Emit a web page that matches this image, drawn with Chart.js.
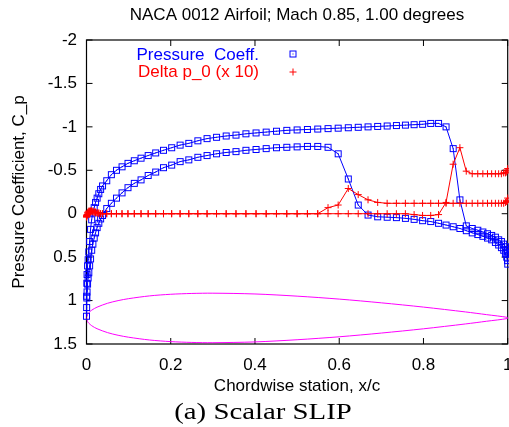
<!DOCTYPE html>
<html>
<head>
<meta charset="utf-8">
<script src="https://cdn.jsdelivr.net/npm/chart.js@4.4.1/dist/chart.umd.min.js"></script>
<style>
  html, body { margin: 0; padding: 0; background: #fff; }
</style>
</head>
<body>
<canvas id="cpChart" width="509" height="427"></canvas>
<script>
// chordwise stations (same for both surfaces)
const xStations = [0, 0.0002, 0.0006, 0.0012, 0.0024, 0.0038, 0.0054, 0.0074, 0.0096, 0.0122,
  0.0150, 0.0182, 0.0215, 0.0252, 0.0292, 0.0335, 0.0381, 0.0480, 0.0590, 0.0711,
  0.0843, 0.0984, 0.1135, 0.1295, 0.1464, 0.1642, 0.1828, 0.2022, 0.2222, 0.2429,
  0.2643, 0.2862, 0.3087, 0.3316, 0.3549, 0.3785, 0.4025, 0.4266, 0.4510, 0.4755,
  0.5, 0.5245, 0.5490, 0.5734, 0.5975, 0.6215, 0.6451, 0.6684, 0.6913, 0.7138,
  0.7357, 0.7571, 0.7778, 0.7979, 0.8172, 0.8358, 0.8536, 0.8705, 0.8865, 0.9016,
  0.9157, 0.9289, 0.9410, 0.9520, 0.9619, 0.9708, 0.9785, 0.9850, 0.9904, 0.9946,
  0.9976, 0.9994, 1];

// pressure coefficient, upper and lower surface
const cpUpper = [1.18, 0.95, 0.80, 0.70, 0.60, 0.53, 0.44, 0.32, 0.18, 0.07,
  -0.01, -0.07, -0.13, -0.18, -0.23, -0.28, -0.32, -0.38, -0.45, -0.50,
  -0.54, -0.58, -0.61, -0.64, -0.67, -0.70, -0.73, -0.76, -0.79, -0.81,
  -0.84, -0.865, -0.88, -0.895, -0.905, -0.92, -0.93, -0.94, -0.95, -0.96,
  -0.965, -0.97, -0.975, -0.98, -0.985, -0.99, -0.995, -1.0, -1.005, -1.01,
  -1.015, -1.02, -1.025, -1.03, -1.04, -1.04, -1.00, -0.75, -0.16, 0.14,
  0.17, 0.19, 0.21, 0.23, 0.25, 0.27, 0.30, 0.32, 0.35, 0.38,
  0.41, 0.43, 0.45];
const cpLower = [1.18, 1.08, 0.97, 0.90, 0.81, 0.74, 0.68, 0.60, 0.52, 0.42,
  0.35, 0.28, 0.22, 0.16, 0.11, 0.06, 0.02, -0.06, -0.12, -0.18,
  -0.24, -0.30, -0.35, -0.39, -0.44, -0.48, -0.53, -0.56, -0.60, -0.62,
  -0.65, -0.67, -0.69, -0.705, -0.715, -0.73, -0.74, -0.75, -0.76, -0.765,
  -0.77, -0.775, -0.775, -0.765, -0.69, -0.40, -0.10, 0.015, 0.035, 0.04,
  0.045, 0.053, 0.065, 0.08, 0.09, 0.11, 0.13, 0.15, 0.17, 0.195,
  0.22, 0.24, 0.26, 0.28, 0.30, 0.33, 0.36, 0.39, 0.42, 0.46,
  0.50, 0.54, 0.58];

// total pressure loss, scaled by 10
const dp0Upper = [0.03, 0.03, 0.02, 0.01, -0.01, -0.02, -0.03, -0.03, -0.03, -0.03,
  -0.03, -0.02, -0.02, -0.01, -0.01, 0, 0, 0, 0, 0,
  0, 0, 0, 0, 0, 0, 0, 0, 0, 0,
  0, 0, 0, 0, 0, 0, 0, 0, 0, 0,
  0, 0, 0, 0, 0, 0, 0, 0, 0, 0,
  0, 0, 0.01, 0.02, 0.02, 0.01, -0.13, -0.57, -0.76, -0.49,
  -0.46, -0.46, -0.46, -0.46, -0.46, -0.46, -0.46, -0.46, -0.47, -0.47,
  -0.48, -0.50, -0.52];
const dp0Lower = [0.03, 0.04, 0.03, 0.02, 0.01, 0.0, -0.01, -0.02, -0.03, -0.03,
  -0.02, -0.02, -0.01, -0.01, 0, 0, 0, 0, 0, 0,
  0, 0, 0, 0, 0, 0, 0, 0, 0, 0,
  0, 0, 0, 0, 0, 0, 0, 0, 0, 0,
  0, 0, 0, -0.07, -0.10, -0.29, -0.22, -0.16, -0.13, -0.12,
  -0.12, -0.12, -0.12, -0.12, -0.12, -0.12, -0.12, -0.12, -0.12, -0.12,
  -0.12, -0.12, -0.12, -0.12, -0.12, -0.12, -0.12, -0.12, -0.12, -0.13,
  -0.14, -0.15, -0.18];

// airfoil outline, drawn in the Cp frame around 1.2
const foilX = [0, 0.0025, 0.005, 0.0125, 0.025, 0.05, 0.075, 0.1, 0.15, 0.2,
  0.25, 0.3, 0.4, 0.5, 0.6, 0.7, 0.8, 0.9, 0.95, 1.0];
const foilUpper = [1.2, 1.159, 1.142, 1.110, 1.076, 1.031, 1.0005, 0.978, 0.946, 0.9275,
  0.918, 0.915, 0.924, 0.949, 0.983, 1.026, 1.075, 1.131, 1.162, 1.194];
const foilLower = [1.2, 1.241, 1.258, 1.290, 1.324, 1.369, 1.3995, 1.422, 1.454, 1.4725,
  1.482, 1.485, 1.476, 1.451, 1.417, 1.374, 1.325, 1.269, 1.238, 1.206];

const xTicks = [0, 0.2, 0.4, 0.6, 0.8, 1];
const yTicks = [-2, -1.5, -1, -0.5, 0, 0.5, 1, 1.5];

const BLUE = '#0000ff', RED = '#ff0000', MAGENTA = '#ff00ff';
const SANS = '"Liberation Sans", Arial, sans-serif';

// go round the section: lower TE -> LE -> upper TE
function loop(lower, upper) {
  const pts = [];
  for (let i = xStations.length - 1; i >= 0; i--) pts.push({ x: xStations[i], y: lower[i] });
  for (let i = 1; i < xStations.length; i++) pts.push({ x: xStations[i], y: upper[i] });
  return pts;
}
function foilPath() {
  const pts = foilX.map((x, i) => ({ x, y: foilUpper[i] }));
  for (let i = foilX.length - 1; i >= 0; i--) pts.push({ x: foilX[i], y: foilLower[i] });
  return pts;
}

// open square with a centre dot
const boxMark = document.createElement('canvas');
boxMark.width = 9; boxMark.height = 9;
(function () {
  const c = boxMark.getContext('2d');
  c.strokeStyle = BLUE; c.lineWidth = 1;
  c.strokeRect(1.5, 1.5, 6, 6);
  c.fillStyle = BLUE; c.fillRect(4, 4, 1, 1);
})();

const frame = {
  id: 'frame',
  beforeDatasetsDraw(chart) {
    const ctx = chart.ctx, xs = chart.scales.x, ys = chart.scales.y;
    const { left, right, top, bottom } = chart.chartArea;
    ctx.save();
    ctx.strokeStyle = '#000';
    ctx.lineWidth = 1.2;
    ctx.strokeRect(left, top, right - left, bottom - top);
    ctx.beginPath();
    ctx.lineWidth = 1;
    xTicks.forEach(v => {
      const px = xs.getPixelForValue(v);
      ctx.moveTo(px, bottom); ctx.lineTo(px, bottom - 6);
      ctx.moveTo(px, top); ctx.lineTo(px, top + 6);
    });
    yTicks.forEach(v => {
      const py = ys.getPixelForValue(v);
      ctx.moveTo(left, py); ctx.lineTo(left + 6, py);
      ctx.moveTo(right, py); ctx.lineTo(right - 6, py);
    });
    ctx.stroke();
    ctx.restore();
  },
  afterDraw(chart) {
    const ctx = chart.ctx;
    ctx.save();
    ctx.fillStyle = '#000';
    ctx.textAlign = 'center';
    ctx.textBaseline = 'alphabetic';
    ctx.font = '17px ' + SANS;
    ctx.fillText('NACA 0012 Airfoil; Mach 0.85, 1.00 degrees', 297, 20);
    ctx.fillText('Chordwise station, x/c', 297, 391);

    // caption, widened serif
    ctx.save();
    ctx.translate(263, 419);
    ctx.scale(1.2, 1);
    ctx.font = '24px "Liberation Serif", serif';
    ctx.fillText('(a) Scalar SLIP', 0, 0);
    ctx.restore();

    ctx.save();
    ctx.translate(19, 192);
    ctx.rotate(-Math.PI / 2);
    ctx.textBaseline = 'middle';
    ctx.font = '17px ' + SANS;
    ctx.fillText('Pressure Coefficient, C_p', 0, 0);
    ctx.restore();

    // key
    ctx.textAlign = 'right';
    ctx.font = '17px ' + SANS;
    ctx.fillStyle = BLUE;
    ctx.fillText('Pressure  Coeff.', 259, 60);
    ctx.fillStyle = RED;
    ctx.fillText('Delta p_0 (x 10)', 259, 77);
    ctx.drawImage(boxMark, 293 - 4.5, 54 - 4.5);
    ctx.strokeStyle = RED; ctx.lineWidth = 1;
    ctx.beginPath();
    ctx.moveTo(289.5, 72); ctx.lineTo(296.5, 72);
    ctx.moveTo(293, 68.5); ctx.lineTo(293, 75.5);
    ctx.stroke();
    ctx.restore();
  }
};

new Chart(document.getElementById('cpChart'), {
  type: 'scatter',
  data: {
    datasets: [
      {
        label: 'Delta p_0 (x 10)',
        data: loop(dp0Lower, dp0Upper),
        showLine: true,
        borderColor: RED,
        borderWidth: 1,
        pointStyle: 'cross',
        pointRadius: 3.5,
        pointBorderColor: RED,
        pointBorderWidth: 1,
        clip: false,
        order: 1
      },
      {
        label: 'Pressure  Coeff.',
        data: loop(cpLower, cpUpper),
        showLine: true,
        borderColor: BLUE,
        borderWidth: 1,
        pointStyle: boxMark,
        pointRadius: 4,
        clip: false,
        order: 2
      },
      {
        label: 'airfoil',
        data: foilPath(),
        showLine: true,
        borderColor: MAGENTA,
        borderWidth: 1,
        pointRadius: 0,
        tension: 0.3,
        order: 3
      }
    ]
  },
  options: {
    responsive: false,
    animation: false,
    events: [],
    layout: { autoPadding: false, padding: { top: 40, right: 1.3, bottom: 0, left: 0 } },
    plugins: { legend: { display: false }, tooltip: { enabled: false }, title: { display: false } },
    scales: {
      x: {
        type: 'linear', min: 0, max: 1,
        afterFit: s => { s.height = 83; s.paddingLeft = 0; s.paddingRight = 0; },
        afterBuildTicks: s => { s.ticks = xTicks.map(v => ({ value: v })); },
        grid: { display: false, drawTicks: false },
        border: { display: false },
        ticks: { color: '#000', font: { family: SANS, size: 17 }, padding: 11, maxRotation: 0,
                 callback: v => String(v) }
      },
      y: {
        type: 'linear', min: -2, max: 1.5, reverse: true,
        afterFit: s => { s.width = 86.5; s.paddingTop = 0; s.paddingBottom = 0; },
        afterBuildTicks: s => { s.ticks = yTicks.map(v => ({ value: v })); },
        grid: { display: false, drawTicks: false },
        border: { display: false },
        ticks: { color: '#000', font: { family: SANS, size: 17 }, padding: 9.5,
                 callback: v => String(v) }
      }
    }
  },
  plugins: [frame]
});
</script>
</body>
</html>
